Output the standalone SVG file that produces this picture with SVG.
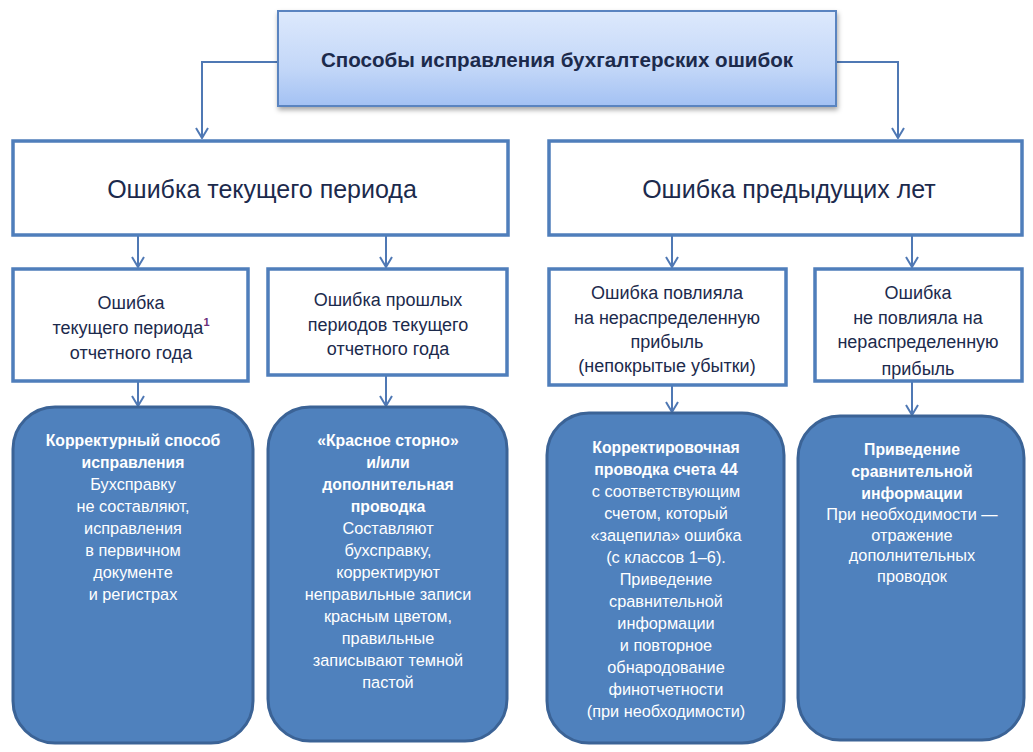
<svg xmlns="http://www.w3.org/2000/svg" width="1033" height="752" viewBox="0 0 1033 752">
<defs>
<linearGradient id="g" x1="0" y1="0" x2="0" y2="1">
<stop offset="0" stop-color="#dde9fc"/>
<stop offset="0.6" stop-color="#c3d7f8"/>
<stop offset="1" stop-color="#a3c1f3"/>
</linearGradient>
<filter id="sh" x="-5%" y="-10%" width="110%" height="130%">
<feDropShadow dx="1" dy="3" stdDeviation="2.5" flood-color="#000" flood-opacity="0.35"/>
</filter>
<marker id="ah" markerWidth="12" markerHeight="14" viewBox="0 0 12 14" refX="11" refY="7" orient="auto" markerUnits="userSpaceOnUse">
<path d="M1,1 L11,7 L1,13" fill="none" stroke="#4f78b4" stroke-width="2"/>
</marker>
</defs>
<style>
.box{fill:#fff;stroke:#4f7ebb;stroke-width:3.5}
.dark{fill:#4f81bd;stroke:#3b6396;stroke-width:3}
.con{fill:none;stroke:#4f78b4;stroke-width:2}
.t{font-family:"Liberation Sans",Arial,sans-serif;fill:#1c2a4c;text-anchor:middle}
.w{font-family:"Liberation Sans",Arial,sans-serif;fill:#fff;text-anchor:middle;font-size:16.3px}
.b{font-weight:bold;font-size:15.8px}
</style>
<rect width="1033" height="752" fill="#fff"/>

<g id="connectors">
<path class="con" d="M278,62 H202 V138" marker-end="url(#ah)"/>
<path class="con" d="M836,62 H898 V138" marker-end="url(#ah)"/>
<path class="con" d="M138,236 V267" marker-end="url(#ah)"/>
<path class="con" d="M386,236 V267" marker-end="url(#ah)"/>
<path class="con" d="M672,236 V267" marker-end="url(#ah)"/>
<path class="con" d="M912,236 V267" marker-end="url(#ah)"/>
<path class="con" d="M138,382 V406" marker-end="url(#ah)"/>
<path class="con" d="M386,376 V406" marker-end="url(#ah)"/>
<path class="con" d="M672,386 V412" marker-end="url(#ah)"/>
<path class="con" d="M912,382 V415" marker-end="url(#ah)"/>
</g>

<g id="root">
<rect x="278" y="11" width="558" height="95" fill="url(#g)" stroke="#5a84c0" stroke-width="2" filter="url(#sh)"/>
<text class="t" x="557" y="67" font-size="20.6" font-weight="bold">Способы исправления бухгалтерских ошибок</text>
</g>

<g id="current">
<rect class="box" x="13" y="141" width="495" height="94"/>
<text class="t" x="262" y="198" font-size="25">Ошибка текущего периода</text>
</g>

<g id="previous">
<rect class="box" x="549" y="141" width="473" height="94"/>
<text class="t" x="789" y="198" font-size="25">Ошибка предыдущих лет</text>
</g>

<g id="cur-year">
<rect class="box" x="13" y="269" width="235" height="112"/>
<text class="t" font-size="18"><tspan x="131" y="309">Ошибка</tspan><tspan x="131" y="334">текущего периода<tspan fill="#6a2d7a" font-weight="bold" font-size="11" dy="-8">1</tspan></tspan><tspan x="131" y="359">отчетного года</tspan></text>
</g>

<g id="past-periods">
<rect class="box" x="268" y="269" width="239" height="106"/>
<text class="t" font-size="18"><tspan x="388" y="306">Ошибка прошлых</tspan><tspan x="388" y="331">периодов текущего</tspan><tspan x="388" y="355">отчетного года</tspan></text>
</g>

<g id="affected">
<rect class="box" x="549" y="269" width="237" height="116"/>
<text class="t" font-size="18"><tspan x="667" y="299">Ошибка повлияла</tspan><tspan x="667" y="324">на нераспределенную</tspan><tspan x="667" y="348">прибыль</tspan><tspan x="667" y="372">(непокрытые убытки)</tspan></text>
</g>

<g id="not-affected">
<text class="t" font-size="18"><tspan x="918" y="299">Ошибка</tspan><tspan x="918" y="324">не повлияла на</tspan><tspan x="918" y="348">нераспределенную</tspan><tspan x="918" y="375">прибыль</tspan></text>
<rect class="box" x="815" y="269" width="207" height="112" style="fill:none"/>
</g>

<g id="method-correct">
<rect class="dark" x="13" y="407" width="240" height="336" rx="42"/>
<text class="w"><tspan class="b" x="133" y="446">Корректурный способ</tspan><tspan class="b" x="133" y="468">исправления</tspan><tspan x="133" y="490">Бухсправку</tspan><tspan x="133" y="512">не составляют,</tspan><tspan x="133" y="534">исправления</tspan><tspan x="133" y="556">в первичном</tspan><tspan x="133" y="578">документе</tspan><tspan x="133" y="600">и регистрах</tspan></text>
</g>

<g id="method-storno">
<rect class="dark" x="268" y="407" width="239" height="334" rx="42"/>
<text class="w"><tspan class="b" x="388" y="446">«Красное сторно»</tspan><tspan class="b" x="388" y="468">и/или</tspan><tspan class="b" x="388" y="490">дополнительная</tspan><tspan class="b" x="388" y="512">проводка</tspan><tspan x="388" y="534">Составляют</tspan><tspan x="388" y="556">бухсправку,</tspan><tspan x="388" y="578">корректируют</tspan><tspan x="388" y="600">неправильные записи</tspan><tspan x="388" y="622">красным цветом,</tspan><tspan x="388" y="644">правильные</tspan><tspan x="388" y="666">записывают темной</tspan><tspan x="388" y="688">пастой</tspan></text>
</g>

<g id="method-44">
<rect class="dark" x="547" y="413" width="237" height="330" rx="42"/>
<text class="w"><tspan class="b" x="666" y="453">Корректировочная</tspan><tspan class="b" x="666" y="475">проводка счета 44</tspan><tspan x="666" y="497">с соответствующим</tspan><tspan x="666" y="519">счетом, который</tspan><tspan x="666" y="541">«зацепила» ошибка</tspan><tspan x="666" y="563">(с классов 1–6).</tspan><tspan x="666" y="585">Приведение</tspan><tspan x="666" y="607">сравнительной</tspan><tspan x="666" y="629">информации</tspan><tspan x="666" y="651">и повторное</tspan><tspan x="666" y="673">обнародование</tspan><tspan x="666" y="695">финотчетности</tspan><tspan x="666" y="717">(при необходимости)</tspan></text>
</g>

<g id="method-compare">
<rect class="dark" x="798" y="416" width="226" height="324" rx="42"/>
<text class="w"><tspan class="b" x="912" y="455">Приведение</tspan><tspan class="b" x="912" y="477">сравнительной</tspan><tspan class="b" x="912" y="499">информации</tspan><tspan x="912" y="520">При необходимости —</tspan><tspan x="912" y="541">отражение</tspan><tspan x="912" y="561">дополнительных</tspan><tspan x="912" y="582">проводок</tspan></text>
</g>
</svg>
